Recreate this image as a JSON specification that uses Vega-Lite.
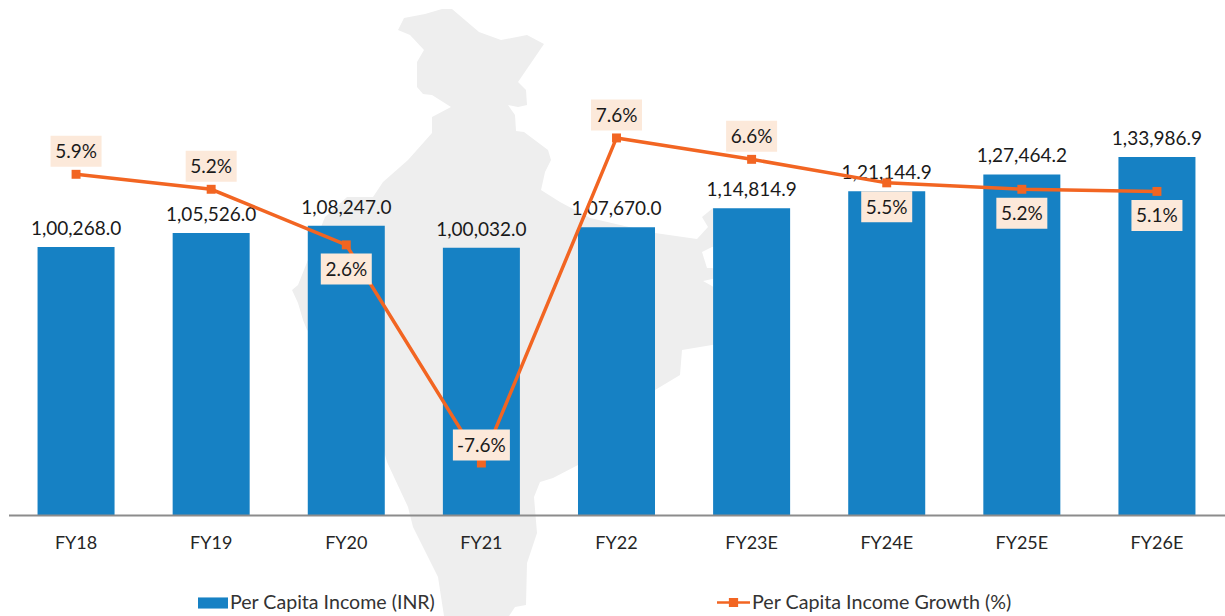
{
"$schema":"https://vega.github.io/schema/vega-lite/v6.json",
"width":1216,"height":515,
"autosize":{"type":"none"},
"padding":{"left":8.5,"top":0,"right":0.5,"bottom":101},
"background":"white",
"config":{"view":{"stroke":null},"text":{"font":"Lato"}},
"datasets":{"d":[
{"fy":"FY18","income":100268.0,"incomeLabel":"1,00,268.0","growth":5.9,"label":"5.9%"},
{"fy":"FY19","income":105526.0,"incomeLabel":"1,05,526.0","growth":5.2,"label":"5.2%"},
{"fy":"FY20","income":108247.0,"incomeLabel":"1,08,247.0","growth":2.6,"label":"2.6%"},
{"fy":"FY21","income":100032.0,"incomeLabel":"1,00,032.0","growth":-7.6,"label":"-7.6%"},
{"fy":"FY22","income":107670.0,"incomeLabel":"1,07,670.0","growth":7.6,"label":"7.6%"},
{"fy":"FY23E","income":114814.9,"incomeLabel":"1,14,814.9","growth":6.6,"label":"6.6%"},
{"fy":"FY24E","income":121144.9,"incomeLabel":"1,21,144.9","growth":5.5,"label":"5.5%"},
{"fy":"FY25E","income":127464.2,"incomeLabel":"1,27,464.2","growth":5.2,"label":"5.2%"},
{"fy":"FY26E","income":133986.9,"incomeLabel":"1,33,986.9","growth":5.1,"label":"5.1%"}
]},
"data":{"name":"d"},
"encoding":{"x":{"field":"fy","type":"nominal","sort":null,"scale":{"paddingInner":0.43,"paddingOuter":0.215},
"axis":{"title":null,"orient":"bottom","zindex":1,"domainColor":"#8c8c8c","domainWidth":2,"ticks":false,"labelAngle":0,"labelFont":"Lato","labelFontSize":18,"labelColor":"#262626","labelPadding":28,"labelBaseline":"middle","grid":false}}},
"layer":[
{"data":{"values":[{"type":"Feature","properties":{"name":"India"},"geometry":{"type":"Polygon","coordinates":[[[73.4,35.95],[73.7,36.55],[74.75,36.75],[75.6,37],[76.1,37],[77.45,35.85],[78.55,35.45],[79.85,35.7],[80.7,35.25],[79.4,33.35],[79.8,32.95],[79.85,32.2],[79.4,32.1],[78.9,32.2],[79.25,31.7],[79.3,30.9],[79.7,30.85],[80.9,29.95],[81.05,29.45],[80.75,28.85],[80.55,27.95],[81.5,27.35],[83,26.55],[86.25,25.8],[88.35,25.5],[88.9,26.1],[88.6,26.6],[89.15,27.05],[92,26.7],[92,25.45],[89.1,25.1],[88.6,24.85],[88.85,24.05],[89.1,24.05],[90,23.7],[89.1,23.5],[88.65,23.4],[89.1,23.15],[90,22.45],[90,20.45],[89.1,20.2],[87.6,19.95],[87.5,18.7],[86.25,17.95],[82.4,14.2],[81.15,13.55],[80.5,13.35],[80.2,12.6],[80.35,10.8],[79.85,9.3],[79.8,7.2],[79.25,7.1],[78.95,6.65],[78,5.45],[77,4.95],[76,5.95],[75.7,6.65],[75.4,8.6],[74.15,11.1],[73.9,12.1],[72.85,14.35],[72,17.45],[70.5,19.95],[68.85,20.95],[68.65,21.45],[68.4,22.3],[68.1,22.95],[68.4,23.2],[69.75,26.6],[70.85,27.6],[72.15,27.6],[72.65,28.35],[73.9,29.45],[75.1,30.8],[75.1,31.6],[76.05,32.1],[75.1,32.7],[74.65,32.75],[74.35,33.1],[74.35,34.35],[74.7,34.95],[74,35.7],[73.4,35.95]]]}}]},
"projection":{"type":"identity","reflectY":true,"scale":20,"translate":[-1078.5,749]},
"mark":{"type":"geoshape","fill":"#eeeeee","stroke":null,"clip":false},
"encoding":{"x":null}},
{"mark":{"type":"bar"},
"encoding":{
"y":{"field":"income","type":"quantitative","scale":{"domain":[0,192737],"nice":false},"axis":null},
"fill":{"datum":"Per Capita Income (INR)","scale":{"range":["#1681C4"]},
"legend":{"title":null,"orient":"none","legendX":189.5,"legendY":588,"symbolType":"M-1,-0.37H1V0.37H-1Z","symbolSize":900,"symbolStrokeWidth":0,"labelFont":"Lato","labelFontSize":19.6,"labelColor":"#333333","labelOffset":2,"labelLimit":400}}}},
{"mark":{"type":"text","dy":-18,"fontSize":19,"baseline":"middle","color":"#1a1a1a"},
"encoding":{"y":{"field":"income","type":"quantitative","scale":{"domain":[0,192737],"nice":false},"axis":null},
"text":{"field":"incomeLabel"}}},
{"mark":{"type":"line","strokeWidth":3.5,"clip":false},
"encoding":{"y":{"field":"growth","type":"quantitative","scale":{"domain":[-10.03,14.05],"nice":false},"axis":null},
"stroke":{"datum":"Per Capita Income Growth (%)","scale":{"range":["#F26522"]},
"legend":{"title":null,"orient":"none","legendX":708.5,"legendY":586,"symbolType":"M-1,-0.08H-0.28V-0.28H0.28V-0.08H1V0.08H0.28V0.28H-0.28V0.08H-1Z","symbolSize":1089,"symbolStrokeWidth":0,"symbolFillColor":"#F26522","labelFont":"Lato","labelFontSize":19.7,"labelColor":"#333333","labelOffset":2,"labelLimit":400}}}},
{"mark":{"type":"point","shape":"square","filled":true,"size":80,"color":"#F26522","opacity":1},
"encoding":{"y":{"field":"growth","type":"quantitative","scale":{"domain":[-10.03,14.05],"nice":false},"axis":null}}},
{"transform":[{"filter":"indexof(['FY18','FY19','FY22','FY23E'],datum.fy)>=0"}],
"mark":{"type":"rect","width":51,"height":31,"yOffset":-23,"color":"#FCE9DA"},
"encoding":{"y":{"field":"growth","type":"quantitative","scale":{"domain":[-10.03,14.05],"nice":false},"axis":null}}},
{"transform":[{"filter":"indexof(['FY18','FY19','FY22','FY23E'],datum.fy)>=0"}],
"mark":{"type":"text","dy":-22,"fontSize":19,"baseline":"middle","color":"#1a1a1a"},
"encoding":{"y":{"field":"growth","type":"quantitative","scale":{"domain":[-10.03,14.05],"nice":false},"axis":null},"text":{"field":"label"}}},
{"transform":[{"filter":"indexof(['FY20','FY24E','FY25E','FY26E'],datum.fy)>=0"}],
"mark":{"type":"rect","width":51,"height":31,"yOffset":24,"color":"#FCE9DA"},
"encoding":{"y":{"field":"growth","type":"quantitative","scale":{"domain":[-10.03,14.05],"nice":false},"axis":null}}},
{"transform":[{"filter":"indexof(['FY20','FY24E','FY25E','FY26E'],datum.fy)>=0"}],
"mark":{"type":"text","dy":25,"fontSize":19,"baseline":"middle","color":"#1a1a1a"},
"encoding":{"y":{"field":"growth","type":"quantitative","scale":{"domain":[-10.03,14.05],"nice":false},"axis":null},"text":{"field":"label"}}},
{"transform":[{"filter":"datum.fy==='FY21'"}],
"mark":{"type":"rect","width":57,"height":31,"yOffset":-18,"color":"#FCE9DA"},
"encoding":{"y":{"field":"growth","type":"quantitative","scale":{"domain":[-10.03,14.05],"nice":false},"axis":null}}},
{"transform":[{"filter":"datum.fy==='FY21'"}],
"mark":{"type":"text","dy":-17,"fontSize":19,"baseline":"middle","color":"#1a1a1a"},
"encoding":{"y":{"field":"growth","type":"quantitative","scale":{"domain":[-10.03,14.05],"nice":false},"axis":null},"text":{"field":"label"}}}
],
"resolve":{"scale":{"y":"independent","fill":"independent","stroke":"independent"}}
}
